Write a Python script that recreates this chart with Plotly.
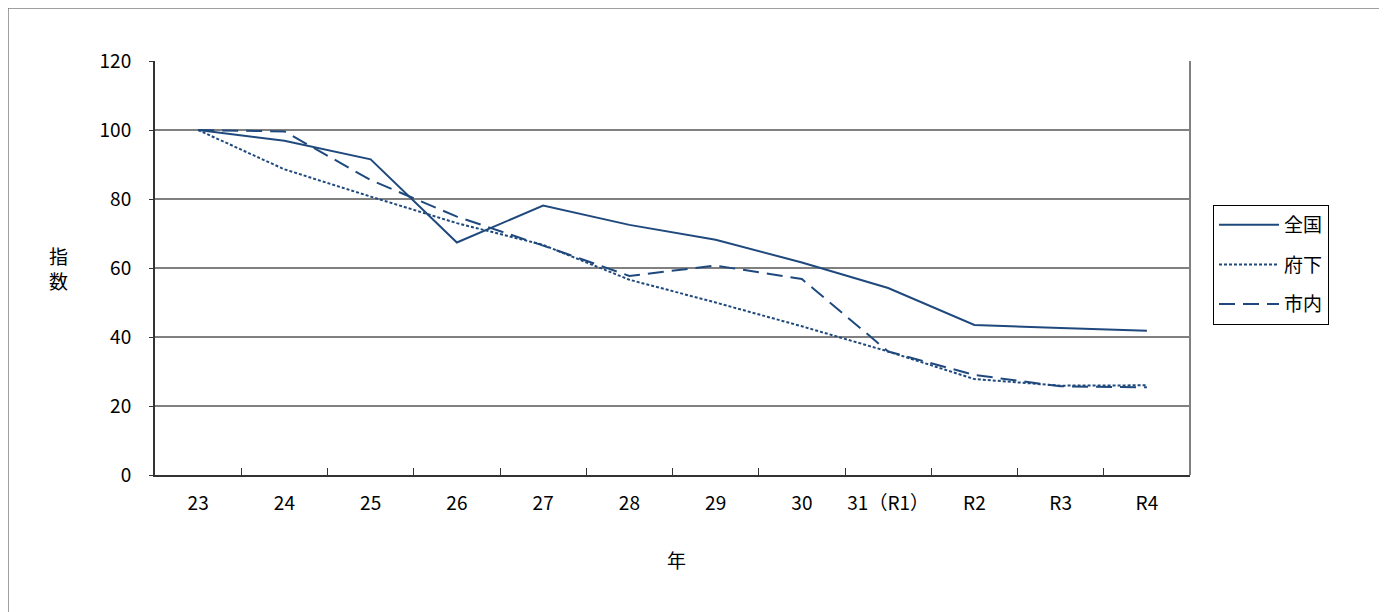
import plotly.graph_objects as go

categories = ["23", "24", "25", "26", "27", "28", "29", "30", "31（R1）", "R2", "R3", "R4"]
zenkoku = [100, 96.9, 91.5, 67.4, 78.1, 72.5, 68.2, 61.6, 54.2, 43.5, 42.6, 41.8]
fuka = [100, 88.6, 80.7, 73.0, 66.7, 56.6, 50.0, 43.1, 35.8, 27.8, 25.9, 26.0]
shinai = [100, 99.6, 85.5, 74.9, 66.5, 57.7, 60.7, 56.8, 35.8, 29.0, 25.7, 25.4]
y_ticks = [0, 20, 40, 60, 80, 100, 120]

COLOR = "#1F497D"
FONT = "Noto Sans CJK JP, Liberation Sans, sans-serif"

OFF = 8  # page body margin
W, H = 1387 - OFF, 612 - OFF
L, R, T, B = 155 - OFF, 1190 - OFF, 61 - OFF, 475.5 - OFF

fig = go.Figure()
fig.add_trace(go.Scatter(x=categories, y=zenkoku, name="全国", mode="lines", legendgroup="a",
                         line=dict(color=COLOR, width=2)))
fig.add_trace(go.Scatter(x=categories, y=fuka, name="府下", mode="lines", legendgroup="b",
                         line=dict(color=COLOR, width=2, dash="3px,2px")))
fig.add_trace(go.Scatter(x=categories, y=shinai, name="市内", mode="lines", legendgroup="c",
                         line=dict(color=COLOR, width=2, dash="16px,8px")))

def px_x(px):
    return (px - OFF - L) / (R - L)

def px_y(py):
    return (B - (py - OFF)) / (B - T)

fig.update_layout(
    width=W, height=H,
    margin=dict(l=L, r=W - R, t=T, b=H - B),
    paper_bgcolor="white", plot_bgcolor="white",
    font=dict(family=FONT, size=19, color="black"),
    showlegend=True,
    legend=dict(
        x=px_x(1213), y=px_y(205), xanchor="left", yanchor="top",
        bordercolor="black", borderwidth=1, bgcolor="white",
        font=dict(family=FONT, size=19, color="black"),
        tracegroupgap=12, itemwidth=60,
    ),
    xaxis=dict(
        type="category", range=[-0.5, 11.5],
        showgrid=False, showline=True, linecolor="#333333", linewidth=2,
        ticks="inside", ticklen=7, tickcolor="#333333", tickson="boundaries",
        tickfont=dict(family=FONT, size=19, color="black"),
        tickangle=0, ticklabelstandoff=10,
        fixedrange=True,
    ),
    yaxis=dict(
        range=[0, 120], tickvals=y_ticks,
        showgrid=True, gridcolor="#808080", gridwidth=1.5,
        showline=True, linecolor="#333333", linewidth=2,
        ticks="outside", ticklen=4, tickcolor="#333333",
        tickfont=dict(family=FONT, size=19, color="black"),
        ticklabelstandoff=14,
        zeroline=False, fixedrange=True,
    ),
    shapes=[
        dict(type="line", xref="paper", yref="paper", x0=1, x1=1, y0=0, y1=1,
             line=dict(color="#808080", width=2)),
        dict(type="rect", xref="paper", yref="paper",
             x0=px_x(8), x1=px_x(1382), y0=px_y(640), y1=px_y(8),
             line=dict(color="#808080", width=1.5)),
    ],
    annotations=[
        dict(text="指<br>数", xref="paper", yref="paper", x=px_x(58), y=px_y(268),
             showarrow=False, font=dict(family=FONT, size=19, color="black"),
             xanchor="center", yanchor="middle"),
        dict(text="年", xref="paper", yref="paper", x=px_x(676), y=px_y(560),
             showarrow=False, font=dict(family=FONT, size=19, color="black"),
             xanchor="center", yanchor="middle"),
    ],
)

fig.write_html("out.html")
